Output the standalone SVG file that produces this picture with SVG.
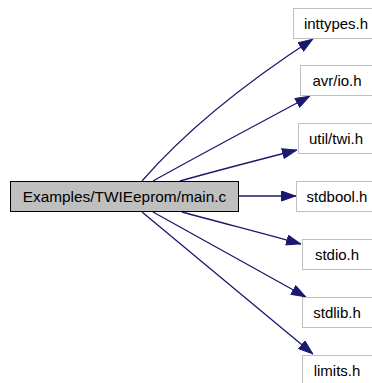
<svg xmlns="http://www.w3.org/2000/svg" width="372" height="383" viewBox="0 0 372 383">
  <style>
    .hdr rect { fill: #ffffff; stroke: #bfbfbf; stroke-width: 1; }
    .main rect { fill: #bfbfbf; stroke: #000000; stroke-width: 1; }
    text { font-family: "Liberation Sans", Arial, Helvetica, sans-serif; font-size: 15px; fill: #000000; text-anchor: middle; }
    .main text { font-size: 15.4px; }
    .edge { fill: none; stroke: #191970; stroke-width: 1.3; }
  </style>
  <defs>
    <marker id="arrow" viewBox="0 0 15 11" refX="15" refY="5.5" markerWidth="15" markerHeight="11" markerUnits="userSpaceOnUse" orient="auto">
      <path d="M0.5,0.5 L14.5,5.5 L0.5,10.5 Z" fill="#191970" stroke="#191970" stroke-width="1"/>
    </marker>
  </defs>

  <!-- include edges -->
  <g id="edges">
    <path class="edge" marker-end="url(#arrow)" d="M142,181 C188,128 250,80 313,39"/>
    <path class="edge" marker-end="url(#arrow)" d="M153,181 C203,153 258,124 310,96"/>
    <path class="edge" marker-end="url(#arrow)" d="M180,181 C219,170 258,160 297,150"/>
    <path class="edge" marker-end="url(#arrow)" d="M238,196 L296,196"/>
    <path class="edge" marker-end="url(#arrow)" d="M182,212 C222,223 262,233 301,244"/>
    <path class="edge" marker-end="url(#arrow)" d="M153,212 C204,240 255,269 306,297"/>
    <path class="edge" marker-end="url(#arrow)" d="M142,212 C199,259 256,307 313,354"/>
  </g>

  <g id="main_c" class="main">
    <rect x="10.5" y="181.5" width="228" height="30"/>
    <text x="124.5" y="202">Examples/TWIEeprom/main.c</text>
  </g>
  <g id="inttypes_h" class="hdr">
    <rect x="293.5" y="8.5" width="80" height="30"/>
    <text x="336" y="29">inttypes.h</text>
  </g>
  <g id="avr_io_h" class="hdr">
    <rect x="300.5" y="65.5" width="73" height="30"/>
    <text x="337" y="86">avr/io.h</text>
  </g>
  <g id="util_twi_h" class="hdr">
    <rect x="298.5" y="123.5" width="75" height="30"/>
    <text x="336" y="144">util/twi.h</text>
  </g>
  <g id="stdbool_h" class="hdr">
    <rect x="296.5" y="181.5" width="77" height="30"/>
    <text x="337" y="202">stdbool.h</text>
  </g>
  <g id="stdio_h" class="hdr">
    <rect x="302.5" y="239.5" width="71" height="30"/>
    <text x="337" y="260">stdio.h</text>
  </g>
  <g id="stdlib_h" class="hdr">
    <rect x="302.5" y="297.5" width="71" height="30"/>
    <text x="337" y="318">stdlib.h</text>
  </g>
  <g id="limits_h" class="hdr">
    <rect x="302.5" y="355.5" width="71" height="30"/>
    <text x="337" y="376">limits.h</text>
  </g>
</svg>
